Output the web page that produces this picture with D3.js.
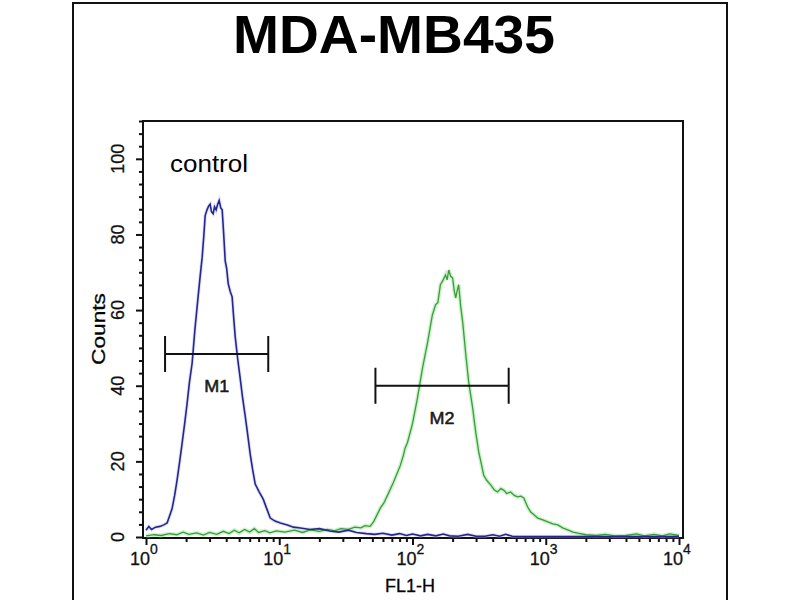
<!DOCTYPE html>
<html>
<head>
<meta charset="utf-8">
<script src="https://cdn.jsdelivr.net/npm/d3@7"></script>
<style>
  body { margin: 0; background: #ffffff; }
  svg text { font-family: "Liberation Sans", Arial, sans-serif; }
</style>
</head>
<body>
<div id="chart"></div>
<script>
// FL1-H channel value / count pairs
const controlFL1 = [1.0, 1.05, 1.1, 1.18, 1.27, 1.36, 1.44, 1.5, 1.57, 1.64, 1.71, 1.79, 1.87, 1.95,
  2.03, 2.12, 2.22, 2.33, 2.46, 2.55, 2.64, 2.72, 2.78, 2.87, 2.95, 3.03, 3.1, 3.19, 3.27, 3.36,
  3.45, 3.54, 3.64, 3.73, 3.83, 3.93, 4.03, 4.14, 4.28, 4.43, 4.55, 4.67, 4.88, 5.09, 5.3, 5.55,
  5.8, 6.05, 6.3, 6.6, 7.05, 7.58, 8.05, 8.56, 9.3, 10.2, 11.5, 12.8, 14.4, 17, 20, 24, 28, 33,
  38, 45, 52, 60, 70, 80, 90, 100, 115, 130, 150, 170, 190, 220, 260, 300, 350, 400, 450, 500,
  560, 700, 1000, 10000];
const controlCounts = [1.8, 2.8, 2.0, 2.6, 2.8, 3.2, 3.7, 5.5, 7.5, 11, 15, 20, 25, 30,
  35, 41, 46, 55, 63.5, 69, 74, 80, 85, 86.5, 87.5, 88, 86, 85.5, 87.3, 86.5,
  88, 89, 87, 86.5, 80, 73, 71, 67, 65, 63.5, 58, 53, 47, 42, 37, 32,
  27, 22, 18, 14, 12, 10, 7.5, 5, 4.2, 3.7, 3.2, 2.6, 2.4, 2.0, 2.2, 1.6, 1.3, 1.8,
  1.2, 0.9, 0.7, 1.0, 0.5, 0.9, 0.4, 0.8, 0.3, 0.7, 0.3, 0.8, 0.3, 0.2, 0.7, 0.2, 0.2, 0.6, 0.2, 0.7,
  0.2, 0.1, 0.1, 0.1];

const sampleFL1 = [1.0, 1.15, 1.3, 1.5, 1.7, 1.9, 2.1, 2.4, 2.7, 3.0, 3.4, 3.8, 4.2, 4.6, 5.0, 5.5,
  6.0, 6.5, 7.0, 7.8, 8.5, 9.5, 11, 13, 15, 17, 20, 23, 26, 29, 33, 37, 41, 44, 48, 51, 57.5, 61,
  64.9, 72, 81.2, 85.6, 88, 91.7, 100, 109, 119, 130, 141, 149, 155, 162, 170, 177, 182, 187, 193,
  200, 206, 211, 216, 222, 230, 238, 250, 264, 283, 298, 314, 330, 342, 360, 386, 410, 435, 460,
  483, 510, 545, 580, 615, 650, 684, 730, 771, 820, 871, 950, 1035, 1130, 1231, 1340, 1463, 1600,
  1740, 2000, 2400, 2800, 3300, 4000, 4800, 5500, 6500, 7500, 8500, 10000];
const sampleCounts = [0.3, 0.6, 0.4, 0.9, 0.6, 1.3, 0.7, 1.1, 0.5, 1.2, 0.7, 1.5, 0.9, 1.8, 1.1, 2.0,
  1.3, 2.2, 1.2, 1.7, 1.1, 1.6, 1.3, 1.8, 1.2, 1.9, 1.5, 2.0, 1.6, 2.2, 2.0, 2.6, 2.4, 3.0, 2.8, 4, 7.7, 9,
  11, 14.5, 19, 21.7, 23.5, 25, 30, 36.8, 44.7, 51.6, 58.7, 61.4, 62, 66.7, 68, 69.3, 68, 70.6, 69,
  68.5, 65, 63.2, 65, 66.7, 61, 56.9, 49, 41, 34, 27.8, 22.5, 19, 16.4, 15, 13.8, 12.5, 11.9, 12.8,
  12.4, 11.5, 11.9, 11, 10.6, 10.8, 10.3, 8, 6.6, 5.8, 5, 4.5, 4, 3.5, 3.2, 2.4, 1.9, 1.3,
  1, 0.6, 0.4, 0.7, 0.3, 0.4, 0.8, 0.3, 0.7, 0.3, 0.8, 0.4];

// marker gates: [start, end] on FL1-H and their count level
const markerNames = ["M1", "M2"];
const markerRanges = [[1.39, 8.27], [52.7, 527]];
const markerLevels = [48.4, 40];

const yTickValues = [0, 20, 40, 60, 80, 100];
const xDecades = [1, 10, 100, 1000, 10000];
const xExponents = ["0", "1", "2", "3", "4"];

const chartTitle = "MDA-MB435";
const sampleLabel = "control";
const xTitle = "FL1-H";
const yTitle = "Counts";

const width = 800, height = 600;
const frame = { left: 143, right: 683, top: 121, bottom: 538 };
const outer = { left: 73, right: 727, top: 3 };
const colors = { control: "#26268a", controlGlow: "#a9b4f0", sample: "#3e9a3e", sampleGlow: "#9fea9f", ink: "#111111" };

const svg = d3.select("#chart").append("svg")
  .attr("width", width)
  .attr("height", height);

svg.append("rect").attr("width", width).attr("height", height).attr("fill", "#ffffff");

// outer panel (open at the bottom, runs off the picture)
svg.append("path")
  .attr("d", `M${outer.left},${height + 5}V${outer.top}H${outer.right}V${height + 5}`)
  .attr("fill", "none")
  .attr("stroke", colors.ink)
  .attr("stroke-width", 2);

svg.append("text")
  .attr("x", 394)
  .attr("y", 53)
  .attr("text-anchor", "middle")
  .attr("font-size", 53)
  .attr("font-weight", "bold")
  .attr("textLength", 322)
  .attr("lengthAdjust", "spacingAndGlyphs")
  .text(chartTitle);

const x = d3.scaleLog().domain([1, 10000]).range([146, 679]);
const y = d3.scaleLinear().domain([0, 110]).range([537, 121]);

// plot frame
svg.append("rect")
  .attr("x", frame.left)
  .attr("y", frame.top)
  .attr("width", frame.right - frame.left)
  .attr("height", frame.bottom - frame.top)
  .attr("fill", "none")
  .attr("stroke", colors.ink)
  .attr("stroke-width", 2);

// y axis: majors every 20, minors every 20/6
const yAxisMajor = d3.axisLeft(y).tickValues(yTickValues).tickSize(7).tickFormat("");
const yMinor = d3.range(0, 111, 20 / 6).filter((v) => Math.abs(v / 20 - Math.round(v / 20)) > 0.01);
const yAxisMinor = d3.axisLeft(y).tickValues(yMinor).tickSize(4).tickFormat("");

[yAxisMajor, yAxisMinor].forEach((ax) => {
  const g = svg.append("g").attr("transform", `translate(${frame.left},0)`).call(ax);
  g.select(".domain").remove();
  g.selectAll("line").attr("stroke", colors.ink).attr("stroke-width", 2);
});

svg.selectAll("text.ylab")
  .data(yTickValues)
  .join("text")
  .attr("class", "ylab")
  .attr("transform", (d) => `translate(124,${y(d)}) rotate(-90)`)
  .attr("text-anchor", "middle")
  .attr("font-size", 18)
  .attr("fill", colors.ink)
  .attr("stroke", colors.ink)
  .attr("stroke-width", 0.3)
  .text((d) => d);

// x axis: decades + log minors
const xMinor = [];
xDecades.slice(0, -1).forEach((dec) => {
  for (let k = 2; k <= 9; k++) xMinor.push(dec * k);
});
const xAxisMajor = d3.axisBottom(x).tickValues(xDecades).tickSize(7).tickFormat("");
const xAxisMinor = d3.axisBottom(x).tickValues(xMinor).tickSize(4).tickFormat("");

[xAxisMajor, xAxisMinor].forEach((ax) => {
  const g = svg.append("g").attr("transform", `translate(0,${frame.bottom})`).call(ax);
  g.select(".domain").remove();
  g.selectAll("line").attr("stroke", colors.ink).attr("stroke-width", 2);
});

const xLabs = svg.selectAll("text.xlab")
  .data(xDecades)
  .join("text")
  .attr("class", "xlab")
  .attr("x", (d) => x(d) - 16)
  .attr("y", 565)
  .attr("font-size", 18)
  .attr("fill", colors.ink)
  .attr("stroke", colors.ink)
  .attr("stroke-width", 0.3);
xLabs.append("tspan").text("10");
xLabs.append("tspan")
  .attr("dy", -11)
  .attr("font-size", 14)
  .text((d, i) => xExponents[i]);

svg.append("text")
  .attr("x", 410)
  .attr("y", 592)
  .attr("text-anchor", "middle")
  .attr("font-size", 18)
  .attr("stroke", colors.ink)
  .attr("stroke-width", 0.3)
  .attr("textLength", 50)
  .attr("lengthAdjust", "spacingAndGlyphs")
  .text(xTitle);

svg.append("text")
  .attr("transform", "translate(105,329) rotate(-90)")
  .attr("text-anchor", "middle")
  .attr("font-size", 18)
  .attr("stroke", colors.ink)
  .attr("stroke-width", 0.3)
  .attr("textLength", 72)
  .attr("lengthAdjust", "spacingAndGlyphs")
  .text(yTitle);

svg.append("text")
  .attr("x", 170)
  .attr("y", 172)
  .attr("font-size", 23)
  .attr("textLength", 78)
  .attr("lengthAdjust", "spacingAndGlyphs")
  .text(sampleLabel);

// histograms
const line = d3.line()
  .x((d) => x(d[0]))
  .y((d) => y(d[1]));

const controlData = d3.zip(controlFL1, controlCounts);
const sampleData = d3.zip(sampleFL1, sampleCounts);

const curves = svg.append("g");
curves.append("path").datum(sampleData).attr("d", line)
  .attr("fill", "none").attr("stroke", colors.sampleGlow).attr("stroke-width", 4).attr("stroke-opacity", 0.55);
curves.append("path").datum(controlData).attr("d", line)
  .attr("fill", "none").attr("stroke", colors.controlGlow).attr("stroke-width", 3.5).attr("stroke-opacity", 0.4);
curves.append("path").datum(sampleData).attr("d", line)
  .attr("fill", "none").attr("stroke", colors.sample).attr("stroke-width", 1.3);
curves.append("path").datum(controlData).attr("d", line)
  .attr("fill", "none").attr("stroke", colors.control).attr("stroke-width", 1.6);

// marker gates
const markers = svg.selectAll("g.marker")
  .data(markerNames.map((name, i) => ({ name, range: markerRanges[i], level: markerLevels[i] })))
  .join("g")
  .attr("class", "marker");

markers.append("path")
  .attr("d", (d) => {
    const x0 = x(d.range[0]), x1 = x(d.range[1]), yy = y(d.level);
    return `M${x0},${yy - 18}V${yy + 18}M${x0},${yy}H${x1}M${x1},${yy - 18}V${yy + 18}`;
  })
  .attr("fill", "none")
  .attr("stroke", colors.ink)
  .attr("stroke-width", 2);

markers.append("text")
  .attr("x", (d) => (x(d.range[0]) + x(d.range[1])) / 2)
  .attr("y", (d) => y(d.level) + 38)
  .attr("text-anchor", "middle")
  .attr("font-size", 16)
  .attr("textLength", 25)
  .attr("lengthAdjust", "spacingAndGlyphs")
  .attr("fill", "#1a1a1a")
  .attr("stroke", "#1a1a1a")
  .attr("stroke-width", 0.5)
  .text((d) => d.name);
</script>
</body>
</html>
